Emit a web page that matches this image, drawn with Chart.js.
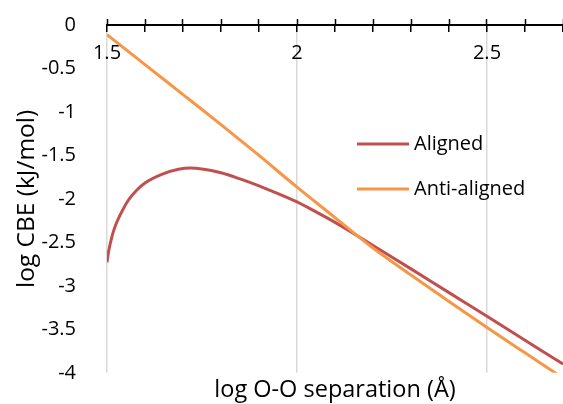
<!DOCTYPE html>
<html><head><meta charset="utf-8">
<script src="https://cdn.jsdelivr.net/npm/chart.js@4.4.0/dist/chart.umd.min.js"></script>
<style>html,body{margin:0;padding:0;background:#fff;overflow:hidden}#wrap{width:563px;height:404px;position:relative}</style>
</head><body><div id="wrap"><canvas id="c" width="563" height="404"></canvas></div>
<script>
// ---- data ----
const seriesNames = ['Aligned', 'Anti-aligned'];
const alignedX = [1.5, 1.504, 1.512, 1.521, 1.534, 1.556, 1.578, 1.6, 1.644, 1.688, 1.72, 1.75, 1.8, 1.85, 1.9, 1.95, 2.0, 2.05, 2.1, 2.15, 2.2, 2.3, 2.4, 2.5, 2.6, 2.7];
const alignedY = [-2.73, -2.61, -2.45, -2.32, -2.19, -2.015, -1.90, -1.817, -1.718, -1.66, -1.646, -1.656, -1.70, -1.77, -1.85, -1.94, -2.035, -2.15, -2.27, -2.40, -2.535, -2.805, -3.078, -3.35, -3.625, -3.90];
const antiX = [1.5, 1.6, 1.7, 1.8, 1.9, 2.0, 2.1, 2.2, 2.3, 2.4, 2.5, 2.6, 2.7];
const antiY = [-0.11, -0.455, -0.80, -1.145, -1.50, -1.865, -2.215, -2.565, -2.875, -3.18, -3.48, -3.77, -4.06];
const xLabelTicks = [1.5, 2, 2.5];
const xMin = 1.5, xMax = 2.7, xStep = 0.1;
const yMin = -4, yMax = 0, yStep = 0.5;

const colors = ['#C0504D', '#F79646'];
const FONT = "'Open Sans', sans-serif";
Chart.defaults.font.family = FONT;
Chart.defaults.color = '#000';

const isMajor = v => xLabelTicks.some(t => Math.abs(t - v) < 1e-6);

const insideLegend = {
  id: 'insideLegend',
  afterDatasetsDraw(chart) {
    const ctx = chart.ctx;
    const rows = [144, 189];
    chart.data.datasets.forEach((ds, i) => {
      ctx.save();
      ctx.strokeStyle = ds.borderColor;
      ctx.lineWidth = 3;
      ctx.beginPath();
      ctx.moveTo(357, rows[i]);
      ctx.lineTo(409, rows[i]);
      ctx.stroke();
      ctx.fillStyle = '#000';
      ctx.font = "20px " + FONT;
      ctx.textBaseline = 'middle';
      ctx.textAlign = 'left';
      ctx.fillText(ds.label, 414, rows[i]);
      ctx.restore();
    });
  }
};

const zeroSidePad = s => { s.paddingLeft = 0; s.paddingRight = 0; s.paddingTop = 0; s.paddingBottom = 0; };

new Chart(document.getElementById('c'), {
  type: 'line',
  data: {
    datasets: [
      { label: seriesNames[0], data: alignedX.map((x, i) => ({x, y: alignedY[i]})), borderColor: colors[0], backgroundColor: colors[0], borderWidth: 3, pointRadius: 0, cubicInterpolationMode: 'monotone', order: 1 },
      { label: seriesNames[1], data: antiX.map((x, i) => ({x, y: antiY[i]})), borderColor: colors[1], backgroundColor: colors[1], borderWidth: 3, pointRadius: 0, cubicInterpolationMode: 'monotone', order: 0 }
    ]
  },
  options: {
    responsive: false,
    animation: false,
    layout: { padding: { top: 19, right: 0, left: 0, bottom: 0 } },
    plugins: {
      legend: { display: false },
      tooltip: { enabled: false },
      title: { display: true, position: 'bottom', fullSize: false, text: 'log O-O separation (Å)', color: '#000', font: { size: 23.5, weight: 'normal', family: FONT }, padding: { top: 3, bottom: 0 } }
    },
    scales: {
      x: {
        type: 'linear', position: { y: 0 }, min: xMin, max: xMax,
        ticks: { stepSize: xStep, autoSkip: false, maxRotation: 0, font: { size: 20 }, padding: 10,
          callback: v => isMajor(v) ? String(Math.round(v * 10) / 10) : '' },
        grid: { color: c => (c.tick && isMajor(c.tick.value)) ? '#d9d9d9' : 'rgba(0,0,0,0)', lineWidth: 1.5, tickColor: '#000', tickLength: 6, tickWidth: 1.5 },
        border: { color: '#000', width: 2 },
        afterFit: zeroSidePad
      },
      x2: {
        type: 'linear', position: 'top', min: xMin, max: xMax,
        ticks: { display: false, stepSize: xStep },
        grid: { drawOnChartArea: false, tickLength: 6, tickColor: '#000', tickWidth: 1.5 },
        border: { display: false },
        afterFit: zeroSidePad
      },
      y: {
        type: 'linear', position: 'left', min: yMin, max: yMax,
        ticks: { stepSize: yStep, font: { size: 20 }, padding: 23, callback: v => String(v) },
        grid: { display: false },
        border: { display: false },
        title: { display: true, text: 'log CBE (kJ/mol)', font: { size: 24.5 }, padding: { top: 12, bottom: 0 } },
        afterFit: s => { zeroSidePad(s); s.width = 107; }
      }
    }
  },
  plugins: [insideLegend]
});
</script></body></html>
